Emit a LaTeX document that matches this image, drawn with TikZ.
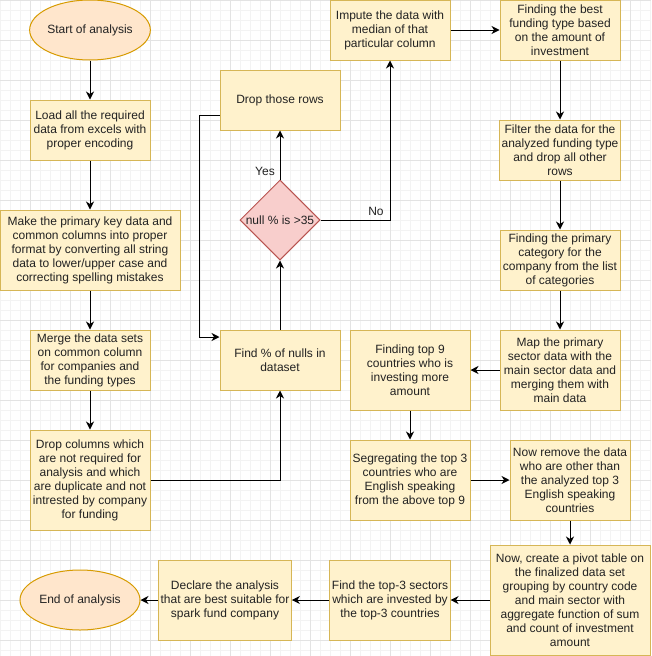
\documentclass[tikz,border=0pt]{standalone}
\usepackage{fontspec}
\setmainfont{Liberation Sans}
\usetikzlibrary{shapes.geometric,arrows.meta}
\definecolor{boxfill}{HTML}{FFF2CC}
\definecolor{boxline}{HTML}{D6B656}
\definecolor{termfill}{HTML}{FFE6CC}
\definecolor{termline}{HTML}{D79B00}
\definecolor{diafill}{HTML}{F8CECC}
\definecolor{dialine}{HTML}{B85450}
\definecolor{minorgrid}{HTML}{F3F3F3}
\definecolor{majorgrid}{HTML}{E3E3E3}
\definecolor{txt}{HTML}{222222}
\begin{document}
\begin{tikzpicture}[x=1pt,y=-1pt,
  every node/.style={font=\fontsize{12}{14}\selectfont, text=txt},
  box/.style={rectangle, draw=boxline, fill=boxfill, line width=1pt, align=center, inner sep=2pt},
  term/.style={ellipse, draw=termline, fill=termfill, line width=1pt, minimum width=120pt, minimum height=60pt, inner sep=0pt},
  dia/.style={diamond, draw=dialine, fill=diafill, line width=1pt, minimum width=80pt, minimum height=80pt, inner sep=0pt},
  arr/.style={draw=black, line width=1pt, -{Stealth[length=8pt,width=8pt,inset=2.5pt]}},
  lbl/.style={inner sep=1pt}
]
\useasboundingbox (0,0) rectangle (651,656);
\fill[white] (0,0) rectangle (651,656);
\foreach \x in {0,10,...,650} \draw[minorgrid, line width=0.6pt] (\x,0) -- (\x,656);
\foreach \y in {0,10,...,650} \draw[minorgrid, line width=0.6pt] (0,\y) -- (651,\y);
\foreach \x in {30,70,...,650} \draw[majorgrid, line width=0.8pt] (\x,0) -- (\x,656);
\foreach \y in {0,40,...,650} \draw[majorgrid, line width=0.8pt] (0,\y) -- (651,\y);

\node[term] (start) at (90,30) {Start of analysis};
\node[box, minimum width=120pt, minimum height=60pt] (load) at (90,130) {Load all the required\\data from excels with\\proper encoding};
\node[box, minimum width=180pt, minimum height=80pt] (make) at (90,250) {Make the primary key data and\\common columns into proper\\format by converting all string\\data to lower/upper case and\\correcting spelling mistakes};
\node[box, minimum width=120pt, minimum height=60pt] (merge) at (90,360) {Merge the data sets\\on common column\\for companies and\\the funding types};
\node[box, minimum width=120pt, minimum height=100pt] (dropcol) at (90,480) {Drop columns which\\are not required for\\analysis and which\\are duplicate and not\\intrested by company\\for funding};
\node[box, minimum width=120pt, minimum height=60pt] (nulls) at (280,360) {Find \% of nulls in\\dataset};
\node[dia] (dec) at (280,220) {};
\node at (dec.center) {null \% is >35};
\node[box, minimum width=120pt, minimum height=60pt] (droprows) at (280,100) {Drop those rows};
\node[box, minimum width=120pt, minimum height=60pt] (impute) at (390,30) {Impute the data with\\median of that\\particular column};
\node[box, minimum width=120pt, minimum height=60pt] (best) at (560,30) {Finding the best\\funding type based\\on the amount of\\investment};
\node[box, minimum width=120pt, minimum height=60pt] (filter) at (560,150) {Filter the data for the\\analyzed funding type\\and drop all other\\rows};
\node[box, minimum width=120pt, minimum height=60pt] (primary) at (560,260) {Finding the primary\\category for the\\company from the list\\of categories};
\node[box, minimum width=120pt, minimum height=80pt] (map) at (560,370) {Map the primary\\sector data with the\\main sector data and\\merging them with\\main data};
\node[box, minimum width=120pt, minimum height=80pt] (top9) at (410,370) {Finding top 9\\countries who is\\investing more\\amount};
\node[box, minimum width=120pt, minimum height=80pt] (seg) at (410,480) {Segregating the top 3\\countries who are\\English speaking\\from the above top 9};
\node[box, minimum width=120pt, minimum height=80pt] (remove) at (570,480) {Now remove the data\\who are other than\\the analyzed top 3\\English speaking\\countries};
\node[box, minimum width=160pt, minimum height=110pt] (pivot) at (570,600) {Now, create a pivot table on\\the finalized data set\\grouping by country code\\and main sector with\\aggregate function of sum\\and count of investment\\amount};
\node[box, minimum width=120pt, minimum height=80pt] (sectors) at (390,600) {Find the top-3 sectors\\which are invested by\\the top-3 countries};
\node[box, minimum width=130pt, minimum height=80pt] (declare) at (225,600) {Declare the analysis\\that are best suitable for\\spark fund company};
\node[term] (end) at (80,600) {End of analysis};

\draw[arr] (start) -- (load);
\draw[arr] (load) -- (make);
\draw[arr] (make) -- (merge);
\draw[arr] (merge) -- (dropcol);
\draw[arr] (dropcol.east) -| (nulls.south);
\draw[arr] (nulls.north) -- (dec.south);
\draw[arr] (dec.north) -- (droprows.south);
\node[lbl] (yes) at (265,171) {Yes};
\draw[arr] ([yshift=-15pt]droprows.west) -- ++(-20,0) |- ([yshift=23pt]nulls.west);
\draw[arr] (dec.east) -| (impute.south);
\node[lbl] (no) at (376,211) {No};
\draw[arr] (impute.east) -- (best.west);
\draw[arr] (best) -- (filter);
\draw[arr] (filter) -- (primary);
\draw[arr] (primary) -- (map);
\draw[arr] (map.west) -- (top9.east);
\draw[arr] (top9) -- (seg);
\draw[arr] (seg.east) -- (remove.west);
\draw[arr] (remove) -- (pivot);
\draw[arr] (pivot.west) -- (sectors.east);
\draw[arr] (sectors) -- (declare);
\draw[arr] (declare) -- (end);
\end{tikzpicture}
\end{document}
